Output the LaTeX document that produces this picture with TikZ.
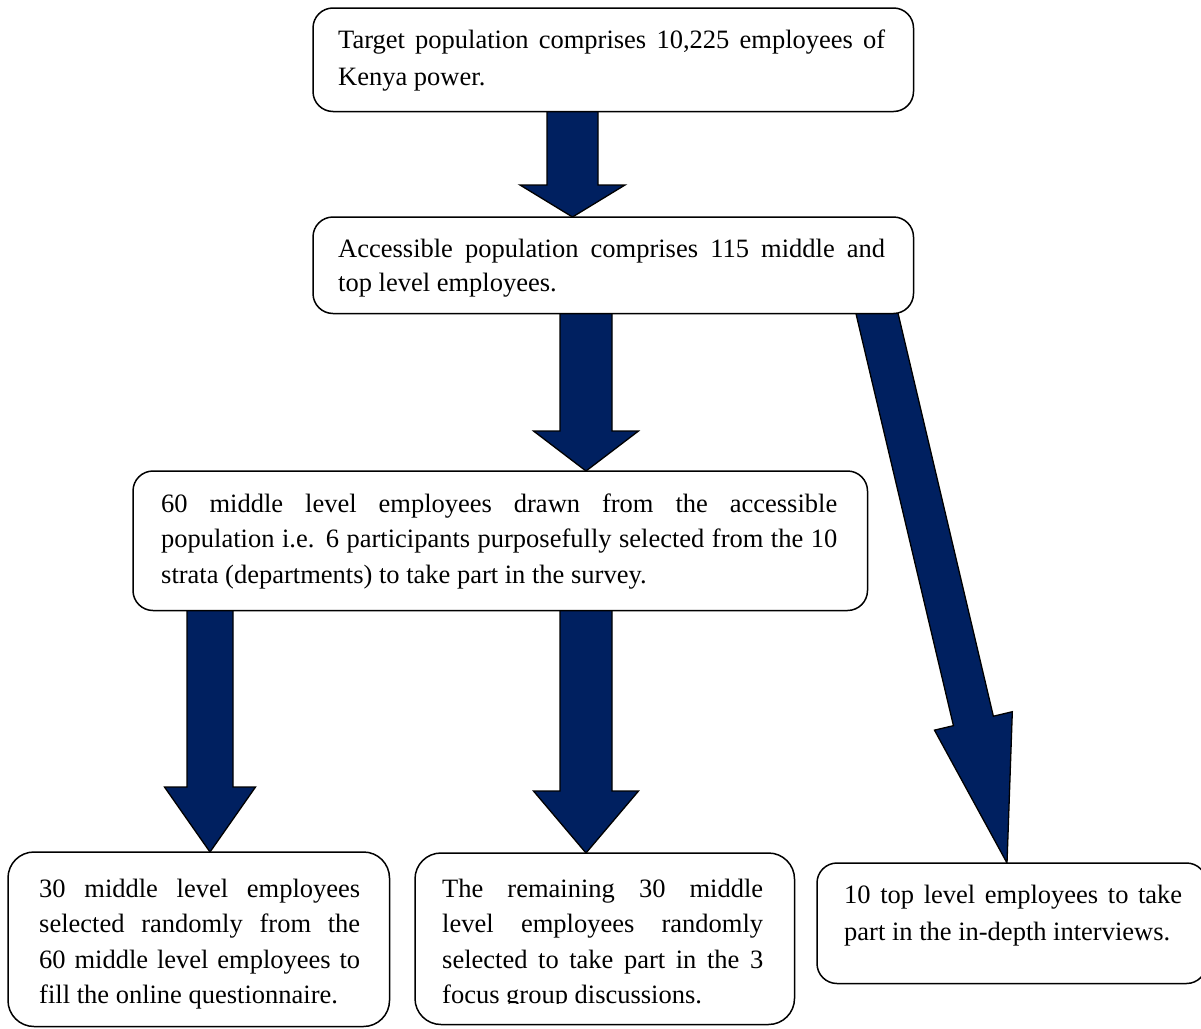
\documentclass[tikz,border=0pt]{standalone}
\usepackage{fontspec}
\setmainfont{Liberation Serif}
\usetikzlibrary{calc}
\definecolor{navy}{RGB}{0,32,96}
\tolerance=10000
\hbadness=10000
\tikzset{
  stepbox/.style={draw=black, line width=1.5pt, rounded corners=20pt, fill=white, inner sep=0pt, anchor=north west},
  txt/.style={inner sep=0pt, anchor=base west, align=justify, font=\fontsize{26.5}{35.5}\selectfont},
  blockarrow/.style={fill=navy, draw=black, line width=1.3pt, line join=miter},
}
% #1 start, #2 tip, #3 half shaft, #4 half head, #5 head length
% the shaft is started 14pt behind #1 so that its end lies under the box above
\newcommand\blockarr[5]{%
  \path (#1) coordinate (ba-s0) (#2) coordinate (ba-t);
  \path ($(ba-s0)!-14pt!(ba-t)$) coordinate (ba-s);
  \path ($(ba-t)!#5!(ba-s)$) coordinate (ba-h);
  \filldraw[blockarrow]
    ($(ba-s)!#3!90:(ba-t)$) -- ($(ba-h)!#3!-90:(ba-s)$) -- ($(ba-h)!#4!-90:(ba-s)$)
    -- (ba-t) -- ($(ba-h)!#4!90:(ba-s)$) -- ($(ba-h)!#3!90:(ba-s)$)
    -- ($(ba-s)!#3!-90:(ba-t)$) -- cycle;
}
\begin{document}
\begin{tikzpicture}[x=1pt,y=-1pt]
\clip (0,0) rectangle (1201,1028);
\fill[white] (0,0) rectangle (1201,1028);

% box frames are placed first (as named coordinates for the arrows), drawn after the arrows
\path (313,8) coordinate (b1nw) (912,110) coordinate (b1se);
\path (313,217) coordinate (b2nw) (912,312) coordinate (b2se);
\path (133,471) coordinate (b3nw) (866,609) coordinate (b3se);
\path (8,852) coordinate (b4nw) (388,1025) coordinate (b4se);
\path (415,853) coordinate (b5nw) (793,1023) coordinate (b5se);
\path (817,863) coordinate (b6nw) (1205,982) coordinate (b6se);

\node[stepbox, minimum width=599pt, minimum height=102pt, draw=none, fill=none] (b1) at (b1nw) {};
\node[stepbox, minimum width=599pt, minimum height=95pt, draw=none, fill=none] (b2) at (b2nw) {};
\node[stepbox, minimum width=733pt, minimum height=138pt, draw=none, fill=none] (b3) at (b3nw) {};
\node[stepbox, minimum width=380pt, minimum height=173pt, draw=none, fill=none] (b4) at (b4nw) {};
\node[stepbox, minimum width=378pt, minimum height=170pt, draw=none, fill=none] (b5) at (b5nw) {};
\node[stepbox, minimum width=388pt, minimum height=119pt, draw=none, fill=none] (b6) at (b6nw) {};

% block arrows
\blockarr{b1.south -| 572.5,0}{b2.north -| 572.5,0}{25.5pt}{52.5pt}{32pt}
\blockarr{b2.south -| 586,0}{b3.north -| 586,0}{26pt}{52.5pt}{40pt}
\blockarr{b2.south -| 877,0}{b6.north -| 1007,0}{20.5pt}{40pt}{146pt}
\blockarr{b3.south -| 210,0}{b4.north -| 210,0}{23pt}{45.5pt}{65pt}
\blockarr{b3.south -| 586,0}{b5.north -| 586,0}{26pt}{52.5pt}{62pt}

% box frames on top
\filldraw[fill=white, line width=1.5pt, rounded corners=20pt] (b1.south west) rectangle (b1.north east);
\filldraw[fill=white, line width=1.5pt, rounded corners=20pt] (b2.south west) rectangle (b2.north east);
\filldraw[fill=white, line width=1.5pt, rounded corners=20pt] (b3.south west) rectangle (b3.north east);
\filldraw[fill=white, line width=1.5pt, rounded corners=26pt] (b4.south west) rectangle (b4.north east);
\filldraw[fill=white, line width=1.5pt, rounded corners=26pt] (b5.south west) rectangle (b5.north east);
\filldraw[fill=white, line width=1.5pt, rounded corners=20pt] (b6.south west) rectangle (b6.north east);

% texts
\node[txt, text width=547pt, font=\fontsize{26.5}{37}\selectfont] (t1) at (338,48)
  {Target population comprises 10,225 employees of\linebreak Kenya power.};
\node[txt, text width=547pt, font=\fontsize{26.5}{34}\selectfont] (t2) at (338,257)
  {Accessible population comprises 115 middle and\linebreak top level employees.};
\node[txt, text width=676pt] (t3) at (161,512)
  {60 middle level employees drawn from the accessible\linebreak population i.e. 6 participants purposefully selected from the 10\linebreak strata (departments) to take part in the survey.};
\node[txt, text width=321pt] (t4) at (39,897)
  {30 middle level employees\linebreak selected randomly from the\linebreak 60 middle level employees to\linebreak fill the online questionnaire.};
\begin{scope}
\clip (400,850) rectangle (800,1003.5);
\node[txt, text width=321pt] (t5) at (442,897)
  {The remaining 30 middle\linebreak level employees randomly\linebreak selected to take part in the 3\linebreak focus group discussions.};
\end{scope}
\node[txt, text width=338pt, font=\fontsize{26.5}{37}\selectfont] (t6) at (844,903)
  {10 top level employees to take\linebreak part in the in-depth interviews.};
\end{tikzpicture}
\end{document}
